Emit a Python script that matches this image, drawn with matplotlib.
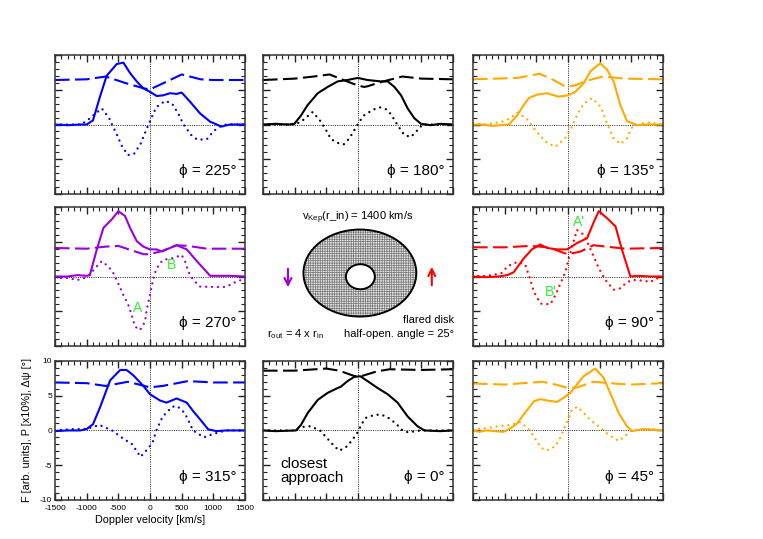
import matplotlib
matplotlib.use("Agg")
import matplotlib.pyplot as plt
from matplotlib.patches import Ellipse
from matplotlib.ticker import MultipleLocator

plt.rcParams['font.family'] = ['Liberation Sans', 'DejaVu Sans']
plt.rcParams['mathtext.fontset'] = 'custom'
plt.rcParams['mathtext.rm'] = 'Liberation Sans'
plt.rcParams['axes.unicode_minus'] = False
plt.rcParams['hatch.linewidth'] = 0.5

# ---- data (velocity in km/s) ----
# phi = 225
v225_F = [-1500, -1300, -1100, -1000, -900, -790, -685, -600, -525, -420, -315, -210, -105, 0, 105, 210, 315, 420, 500, 630, 790, 950, 1130, 1260, 1500]
F225 = [0, -0.1, 0, 0, 0.6, 4.0, 7.0, 7.9, 8.7, 8.9, 7.4, 6.2, 5.2, 4.7, 4.1, 4.2, 4.5, 4.4, 4.6, 3.3, 1.6, 0.4, -0.3, 0, 0]
v225_P = [-1500, -1000, -700, -400, -100, 0, 200, 500, 800, 1000, 1500]
P225 = [6.4, 6.5, 6.9, 6.0, 5.2, 5.05, 5.9, 7.2, 6.5, 6.4, 6.4]
v225_D = [-1500, -1200, -1100, -1000, -900, -760, -650, -600, -520, -450, -350, -250, -150, -70, 0, 100, 240, 350, 450, 530, 650, 750, 900, 1000, 1100, 1200, 1500]
D225 = [0, 0, 0, 0.5, 1.3, 2.3, 1.0, 0, -1.5, -3.0, -4.4, -4.2, -2.8, -1.0, 0.5, 2.5, 3.4, 3.0, 1.5, 0, -1.5, -2.2, -2.1, -1.0, -0.3, 0, 0]

# phi = 180
v180_F = [-1500, -1300, -1100, -1005, -900, -795, -635, -480, -320, -165, -60, 0, 150, 360, 470, 575, 680, 785, 890, 995, 1150, 1300, 1500]
F180 = [0, 0.1, 0, 0.1, 1.3, 2.8, 4.5, 5.4, 6.2, 6.4, 6.6, 6.7, 6.4, 6.2, 6.2, 5.4, 4.2, 2.3, 0.9, 0.1, -0.1, 0.1, 0]
v180_P = [-1500, -1000, -700, -450, -200, 0, 100, 150, 400, 700, 1000, 1500]
P180 = [6.4, 6.6, 6.9, 7.2, 6.3, 5.6, 5.4, 5.5, 6.2, 6.9, 6.6, 6.5]
v180_D = [-1500, -1000, -900, -715, -585, -505, -425, -320, -225, -137, -58, 20, 100, 180, 258, 350, 440, 520, 625, 730, 835, 940, 1020, 1500]
D180 = [0, 0, 0.4, 1.8, 0.4, -0.8, -2.1, -2.65, -2.85, -2.0, -0.8, 0.4, 1.35, 1.8, 2.2, 2.45, 2.2, 1.5, -0.1, -1.5, -1.8, -0.8, 0, 0]

# phi = 135
v135_F = [-1500, -1350, -1200, -935, -805, -700, -620, -490, -330, -150, 0, 115, 245, 350, 450, 510, 615, 720, 825, 930, 1090, 1250, 1500]
F135 = [0, 0, -0.2, 0, 1.3, 2.8, 3.8, 4.3, 4.5, 4.0, 4.2, 4.7, 5.9, 7.6, 8.4, 8.8, 7.9, 6.2, 2.8, 0.5, -0.1, 0, 0]
v135_P = [-1500, -800, -450, -250, -50, 100, 300, 550, 900, 1500]
P135 = [6.5, 6.7, 7.3, 6.5, 5.5, 5.6, 6.3, 6.9, 6.6, 6.5]
v135_D = [-1500, -1300, -1100, -1000, -900, -800, -650, -500, -350, -200, -50, 50, 150, 250, 380, 520, 600, 720, 830, 930, 1000, 1100, 1250, 1500]
D135 = [0.1, 0, 0.3, 0.5, 1.0, 1.7, 0.8, -1.0, -2.5, -3.2, -2.0, -0.5, 1.5, 3.0, 3.8, 2.5, 0.5, -2.0, -2.8, -2.0, -0.5, 0, 0.3, 0]

# phi = 270
v270_F = [-1500, -1300, -1150, -1000, -950, -840, -735, -605, -500, -395, -315, -210, -105, 0, 105, 185, 315, 420, 580, 740, 950, 1100, 1260, 1500]
F270 = [0, 0, 0.2, 0.1, 0.2, 3.9, 7.0, 8.2, 9.4, 8.7, 7.0, 5.1, 4.3, 3.9, 3.9, 3.6, 4.1, 4.5, 3.9, 2.2, 0.1, 0.1, 0.1, 0]
v270_P = [-1500, -1000, -700, -500, -300, -100, 0, 200, 420, 600, 900, 1500]
P270 = [4.1, 4.0, 4.3, 4.4, 3.8, 3.2, 3.2, 3.7, 4.5, 4.4, 4.0, 4.0]
v270_D = [-1500, -1300, -1150, -1050, -950, -842, -763, -658, -580, -526, -421, -342, -290, -237, -158, -79, -53, 0, 42, 95, 158, 210, 368, 500, 553, 605, 684, 790, 1000, 1200, 1350, 1500]
D270 = [-0.2, -0.2, -0.5, -0.3, 0.3, 1.45, 2.2, 1.45, 0.5, -0.5, -2.65, -4.1, -5.5, -7.2, -7.7, -6.5, -4.8, -2.65, -0.7, 1.0, 1.9, 2.4, 2.65, 3.1, 2.2, 0.7, -0.5, -1.45, -1.5, -1.5, -0.8, -0.3]

# phi = 90
v90_F = [-1500, -1300, -1100, -960, -860, -700, -570, -440, -330, -175, -15, 140, 300, 400, 485, 615, 750, 850, 985, 1100, 1300, 1500]
F90 = [0, -0.1, 0, 0.2, 0.6, 2.6, 3.9, 4.6, 4.1, 3.9, 3.9, 4.8, 5.5, 7.7, 9.4, 8.4, 7.2, 3.9, 0, 0.1, 0, 0]
v90_P = [-1500, -1000, -600, -300, -100, 0, 200, 400, 600, 900, 1500]
P90 = [4.2, 4.2, 4.4, 4.2, 3.5, 3.2, 3.6, 4.5, 4.3, 4.0, 4.1]
v90_D = [-1500, -1400, -1200, -1050, -950, -800, -675, -595, -540, -435, -280, -200, -120, -40, 10, 90, 140, 250, 380, 485, 590, 720, 825, 930, 1035, 1195, 1300, 1380, 1485]
D90 = [0.5, 0, 0.2, 0.5, 1.5, 2.1, 1.7, -0.5, -2.2, -3.9, -4.0, -2.7, -1.0, 0.7, 2.6, 5.1, 6.7, 6.0, 3.4, 1.2, -0.5, -1.9, -1.7, -0.8, -0.5, -0.6, -0.8, -0.3, -0.2]

# phi = 315
v315_F = [-1500, -1300, -1100, -1000, -900, -790, -630, -470, -370, -260, -105, 0, 160, 260, 420, 580, 680, 790, 920, 1050, 1200, 1500]
F315 = [-0.1, 0, 0, 0.2, 0.9, 3.3, 7.2, 8.7, 8.7, 7.9, 6.4, 5.2, 4.3, 4.0, 4.6, 4.0, 2.8, 1.6, 0.15, -0.1, 0, 0]
v315_P = [-1500, -1000, -700, -350, 0, 200, 600, 1000, 1500]
P315 = [6.9, 6.8, 6.4, 7.0, 6.2, 6.4, 7.1, 6.9, 6.9]
v315_D = [-1500, -1200, -1000, -800, -600, -450, -280, -150, -20, 50, 100, 200, 350, 430, 550, 680, 850, 1000, 1200, 1500]
D315 = [0, 0.2, 0.2, 0.8, 0, -1.0, -2.0, -3.8, -2.5, -1.5, 0, 2.0, 3.4, 3.5, 2.5, 0, -1.0, -0.5, 0, 0]

# phi = 0
v0_F = [-1500, -1300, -980, -900, -795, -635, -480, -345, -270, -165, -60, 35, 150, 310, 470, 625, 785, 940, 1050, 1300, 1500]
F0 = [0, -0.1, 0, 0.8, 2.5, 4.4, 5.4, 6.0, 6.3, 7.1, 7.7, 7.8, 7.1, 6.1, 5.2, 4.0, 2.0, 0.6, 0, -0.1, 0]
v0_P = [-1500, -1000, -500, -300, -50, 50, 300, 500, 1000, 1500]
P0 = [8.6, 8.6, 8.9, 8.6, 7.8, 7.8, 8.5, 8.8, 8.7, 8.8]
v0_D = [-1500, -1000, -900, -750, -600, -500, -400, -300, -200, -100, 0, 50, 120, 250, 350, 450, 600, 700, 800, 900, 1000, 1500]
D0 = [0, 0, 0.5, 0.6, 0, -1.0, -2.0, -2.9, -2.5, -1.5, -0.2, 0.8, 1.8, 2.2, 2.3, 2.0, 1.0, 0, -0.3, -0.1, 0, 0]

# phi = 45
v45_F = [-1500, -1400, -1300, -1015, -910, -805, -700, -540, -435, -330, -175, -70, 35, 140, 245, 430, 560, 665, 800, 930, 1010, 1190, 1500]
F45 = [0, -0.2, 0, -0.2, 0.3, 1.0, 2.3, 4.2, 4.5, 4.3, 4.1, 4.7, 5.4, 6.6, 7.8, 8.9, 7.6, 5.4, 2.5, 0.6, -0.1, 0.2, 0]
v45_P = [-1500, -1000, -400, -200, 0, 150, 400, 800, 1000, 1500]
P45 = [6.75, 6.6, 7.0, 6.6, 6.1, 6.2, 7.0, 6.7, 6.6, 6.8]
v45_D = [-1500, -1300, -1100, -900, -750, -600, -500, -420, -350, -200, -120, -50, 0, 60, 150, 250, 350, 500, 650, 800, 900, 1000, 1300, 1500]
D45 = [0.2, 0.3, 0.6, 0.8, 1.2, 0, -1.5, -2.5, -2.9, -2.3, -1.0, 0.5, 1.5, 3.0, 3.4, 2.5, 1.5, 0.5, -0.7, -1.5, -0.8, 0, 0.2, 0]

# (row, col, phi label, colour, series)
panels = [
    (0, 0, '225', '#0000ff', v225_F, F225, v225_P, P225, v225_D, D225),
    (0, 1, '180', '#000000', v180_F, F180, v180_P, P180, v180_D, D180),
    (0, 2, '135', '#ffaa00', v135_F, F135, v135_P, P135, v135_D, D135),
    (1, 0, '270', '#9900dd', v270_F, F270, v270_P, P270, v270_D, D270),
    (1, 2, '90', '#ff0000', v90_F, F90, v90_P, P90, v90_D, D90),
    (2, 0, '315', '#0000ff', v315_F, F315, v315_P, P315, v315_D, D315),
    (2, 1, '0', '#000000', v0_F, F0, v0_P, P0, v0_D, D0),
    (2, 2, '45', '#ffaa00', v45_F, F45, v45_P, P45, v45_D, D45),
]

col_left = [0.0721, 0.3447, 0.620]
row_bottom = [0.640, 0.358, 0.0724]
ax_w, ax_h = 0.249, 0.258
green = '#33ee33'

fig = plt.figure(figsize=(7.63, 5.39), dpi=100)


def style_axes(ax, labels):
    ax.set_xlim(-1500, 1500)
    ax.set_ylim(-10, 10)
    ax.xaxis.set_major_locator(MultipleLocator(500))
    ax.xaxis.set_minor_locator(MultipleLocator(100))
    ax.yaxis.set_major_locator(MultipleLocator(5))
    ax.yaxis.set_minor_locator(MultipleLocator(1))
    ax.tick_params(which='both', direction='in', top=True, right=True,
                   color='#222222')
    ax.tick_params(which='major', length=5, width=1.0)
    ax.tick_params(which='minor', length=2.6, width=0.8)
    ax.tick_params(labelsize=6)
    ax.tick_params(axis='x', pad=3.5)
    ax.tick_params(axis='y', pad=2)
    if not labels:
        ax.tick_params(labelbottom=False, labelleft=False)
    for s in ax.spines.values():
        s.set_linewidth(1.1)
        s.set_color('#333333')
    ax.axhline(0, color='#222222', lw=0.7, ls=(0, (1, 1.3)), zorder=1)
    ax.axvline(0, color='#222222', lw=0.7, ls=(0, (1, 1.3)), zorder=1)


axes = {}
for r, c, phi, col, vF, F, vP, P, vD, D in panels:
    ax = fig.add_axes([col_left[c], row_bottom[r], ax_w, ax_h])
    style_axes(ax, labels=(r == 2 and c == 0))
    ax.plot(vF, F, color=col, lw=1.5, solid_joinstyle='round')
    ax.plot(vP, P, color=col, lw=1.5, ls=(0, (7, 2.6)))
    ax.plot(vD, D, color=col, lw=1.7, ls=(0, (0.01, 2.5)), dash_capstyle='round')
    ax.text(1360, -6.7, '\u03d5 = ' + phi + '\u00b0', ha='right', va='center',
            fontsize=11)
    axes[(r, c)] = ax

# labels of features
axes[(1, 0)].text(-195, -4.6, 'A', color=green, fontsize=10, ha='center', va='center')
axes[(1, 0)].text(340, 1.7, 'B', color=green, fontsize=10, ha='center', va='center')
axes[(1, 2)].text(170, 7.9, "A'", color=green, fontsize=10, ha='center', va='center')
axes[(1, 2)].text(-265, -2.2, "B'", color=green, fontsize=10, ha='center', va='center')
axes[(2, 1)].text(-1230, -5.9, 'closest\napproach', ha='left', va='center',
                  fontsize=11, linespacing=1.0)

bl = axes[(2, 0)]
bl.set_xlabel('Doppler velocity [km/s]', fontsize=7.8, labelpad=2)
bl.set_ylabel('F [arb. units], P [x10%], \u0394\u03c8 [\u00b0]', fontsize=7.8, labelpad=6)

# central sketch of the disk (units = pixels of the panel)
axd = fig.add_axes([col_left[1], row_bottom[1], ax_w + 0.001, ax_h - 0.002])
axd.set_xlim(0, 191)
axd.set_ylim(0, 138)
axd.axis('off')
axd.add_patch(Ellipse((97, 73), 113, 87, facecolor='#e2e2e2', edgecolor='#7a7a7a',
                      hatch='+++++++', lw=0))
axd.add_patch(Ellipse((97, 73), 113, 87, fill=False, edgecolor='k', lw=1.4))
axd.add_patch(Ellipse((97.5, 69.3), 29, 25, facecolor='white', edgecolor='k', lw=1.4))
axd.text(95, 126, r'v$_{\rm Kep}$(r_in) = 1400 km/s', ha='center', va='baseline', fontsize=8)
axd.annotate('', xy=(25, 56), xytext=(25, 80),
             arrowprops=dict(arrowstyle='->,head_length=0.5,head_width=0.25',
                             color='#9900dd', lw=1.5))
axd.annotate('', xy=(169, 82), xytext=(169, 58),
             arrowprops=dict(arrowstyle='->,head_length=0.5,head_width=0.25',
                             color='#ff0000', lw=1.5))
axd.text(191, 23, 'flared disk', ha='right', va='baseline', fontsize=8)
axd.text(191, 9, 'half-open. angle = 25\u00b0', ha='right', va='baseline', fontsize=8)
axd.text(4, 9, r'r$_{\rm out}$ = 4 x r$_{\rm in}$', ha='left', va='baseline', fontsize=8)

fig.savefig('out.png', dpi=100)
